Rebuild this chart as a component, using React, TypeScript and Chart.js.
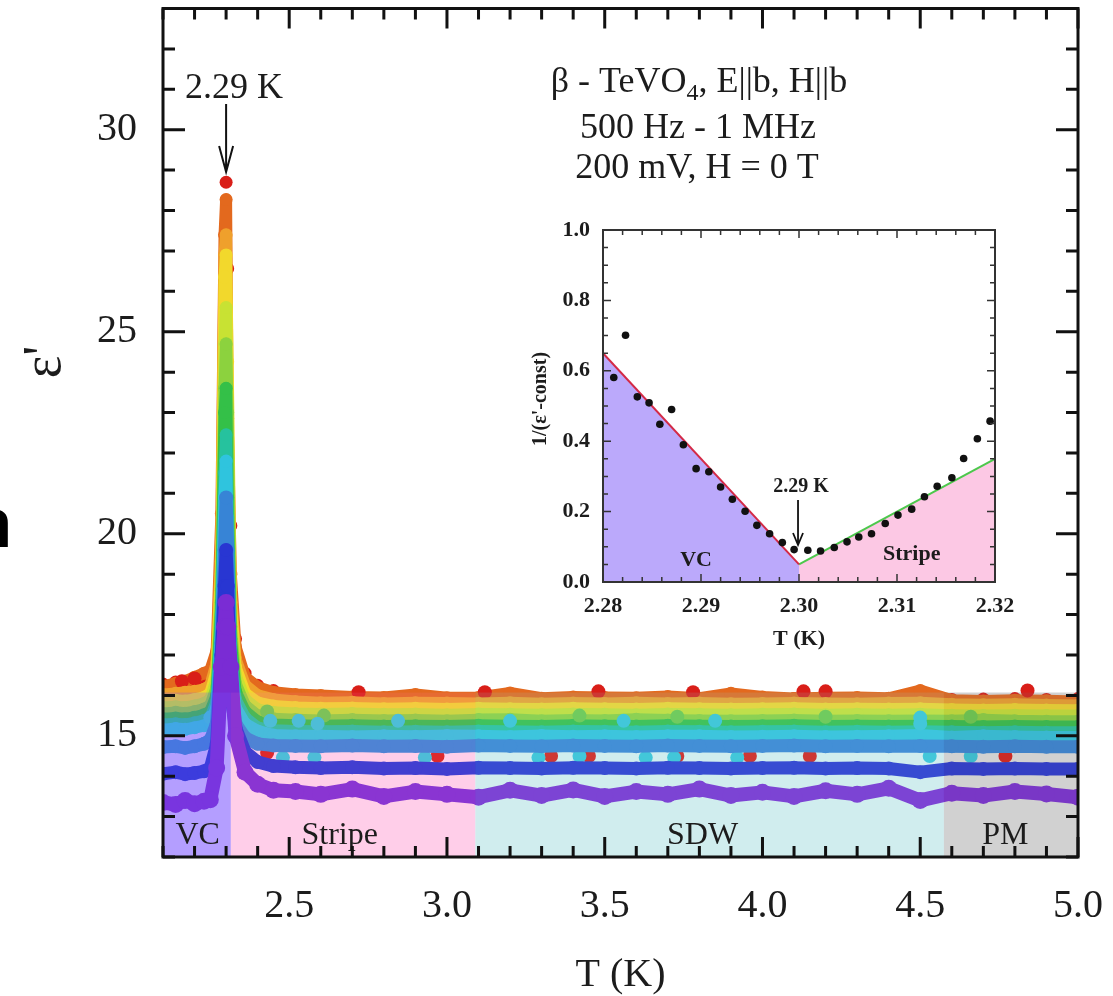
import React, { useEffect, useRef } from "react";
import { Chart, registerables } from "chart.js";

Chart.register(...registerables);

const SERIF = '"Liberation Serif", "Times New Roman", Times, serif';
const INK = "#1c1c1c";

// ---------- main panel: ε' versus T, one curve per measuring frequency ----------
const temperatureK = [
  2.1, 2.14, 2.17, 2.2, 2.23, 2.25, 2.27,
  2.285, 2.295, 2.3, 2.305, 2.315, 2.33, 2.36, 2.4, 2.45,
  2.52, 2.6, 2.7, 2.8, 2.9, 3.0, 3.1, 3.2, 3.3, 3.4, 3.5, 3.6, 3.7,
  3.8, 3.9, 4.0, 4.1, 4.2, 4.3, 4.4, 4.5, 4.6, 4.7, 4.8, 4.9, 5.0,
];

const epsRed = [
  16.28, 16.33, 16.24, 16.3, 16.38, 16.52, 16.9,
  19.5, 25.3, 28.7, 26.56, 20.2, 17.4, 16.55, 16.25, 16.12,
  15.98, 15.93, 15.95, 15.92, 15.9, 15.91, 15.93, 15.92, 15.9, 15.91, 15.92, 15.9, 15.92,
  15.93, 15.9, 15.91, 15.92, 15.93, 15.9, 15.92, 15.95, 15.9, 15.91, 15.92, 15.9, 15.92,
];
const epsOrange = [
  16.22, 16.3, 16.35, 16.45, 16.55, 16.62, 17.1,
  20.5, 27.4, 28.27, 22.85, 19.0, 17.2, 16.45, 16.2, 16.08,
  16.02, 16.0, 15.96, 15.95, 16.02, 15.94, 15.95, 16.06, 15.93, 15.96, 15.95, 15.94, 15.97,
  15.93, 16.05, 15.96, 15.92, 15.94, 15.95, 15.93, 16.12, 15.88, 15.86, 15.88, 15.87, 15.85,
];
const epsAmber = [
  16.02, 16.05, 16.08, 16.1, 16.15, 16.25, 16.8,
  19.8, 26.9, 27.4, 22.0, 18.6, 16.9, 16.25, 16.0, 15.9,
  15.85, 15.82, 15.83, 15.8, 15.82, 15.81, 15.8, 15.82, 15.79, 15.81, 15.8, 15.82, 15.8,
  15.81, 15.79, 15.8, 15.81, 15.8, 15.79, 15.81, 15.82, 15.78, 15.77, 15.78, 15.76, 15.75,
];
const epsYellow = [
  15.85, 15.88, 15.86, 15.9, 15.95, 16.05, 16.6,
  19.3, 26.36, 26.9, 24.26, 18.3, 16.7, 16.05, 15.82, 15.74,
  15.7, 15.68, 15.69, 15.67, 15.68, 15.66, 15.68, 15.67, 15.66, 15.68, 15.67, 15.66, 15.68,
  15.67, 15.66, 15.67, 15.68, 15.66, 15.67, 15.66, 15.67, 15.65, 15.64, 15.65, 15.64, 15.63,
];
const epsLime = [
  15.7, 15.72, 15.7, 15.74, 15.8, 15.9, 16.4,
  19.0, 24.7, 25.6, 21.85, 18.0, 16.5, 15.9, 15.65, 15.58,
  15.55, 15.54, 15.55, 15.53, 15.54, 15.52, 15.54, 15.53, 15.52, 15.54, 15.53, 15.52, 15.54,
  15.53, 15.52, 15.53, 15.54, 15.52, 15.53, 15.52, 15.53, 15.51, 15.5, 15.51, 15.5, 15.5,
];
const epsLightGreen = [
  15.55, 15.58, 15.56, 15.6, 15.66, 15.75, 16.2,
  18.6, 23.6, 24.7, 23.0, 17.7, 16.3, 15.75, 15.5, 15.42,
  15.4, 15.38, 15.4, 15.38, 15.39, 15.37, 15.4, 15.41, 15.37, 15.39, 15.38, 15.41, 15.39,
  15.38, 15.37, 15.38, 15.39, 15.37, 15.38, 15.37, 15.38, 15.37, 15.4, 15.37, 15.36, 15.36,
];
const epsGreen = [
  15.42, 15.44, 15.42, 15.46, 15.52, 15.6, 16.0,
  18.3, 23.0, 23.6, 20.9, 17.4, 16.1, 15.6, 15.35, 15.28,
  15.26, 15.25, 15.26, 15.24, 15.25, 15.24, 15.26, 15.25, 15.24, 15.26, 15.25, 15.24, 15.26,
  15.25, 15.24, 15.25, 15.26, 15.24, 15.25, 15.24, 15.25, 15.24, 15.23, 15.24, 15.23, 15.23,
];
const epsTeal = [
  15.28, 15.3, 15.28, 15.32, 15.38, 15.45, 15.85,
  18.0, 21.5, 22.45, 20.4, 17.1, 15.9, 15.45, 15.2, 15.14,
  15.12, 15.11, 15.12, 15.1, 15.11, 15.1, 15.12, 15.11, 15.1, 15.12, 15.11, 15.1, 15.12,
  15.11, 15.1, 15.11, 15.12, 15.1, 15.11, 15.1, 15.11, 15.1, 15.09, 15.1, 15.09, 15.09,
];
const epsCyan = [
  15.15, 15.18, 15.16, 15.2, 15.25, 15.32, 15.7,
  17.7, 20.9, 21.8, 19.6, 16.8, 15.7, 15.3, 15.12, 15.02,
  15.0, 15.0, 14.98, 15.0, 14.99, 15.01, 15.0, 14.98, 15.01, 14.99, 15.0, 14.98, 15.0,
  15.0, 14.98, 14.99, 15.0, 14.98, 14.99, 15.0, 15.02, 14.97, 15.0, 14.98, 14.97, 14.97,
];
const epsSkyBlue = [
  14.72, 14.74, 14.7, 14.74, 14.8, 14.9, 15.3,
  17.3, 19.6, 20.9, 19.6, 16.3, 15.3, 14.95, 14.8, 14.76,
  14.75, 14.74, 14.76, 14.74, 14.75, 14.73, 14.76, 14.75, 14.74, 14.76, 14.75, 14.74, 14.76,
  14.75, 14.74, 14.75, 14.76, 14.74, 14.75, 14.74, 14.75, 14.74, 14.73, 14.74, 14.73, 14.73,
];
const epsBlue = [
  14.06, 14.1, 14.05, 14.08, 14.12, 14.2, 14.8,
  17.0, 18.7, 19.6, 18.7, 16.0, 15.2, 14.6, 14.35, 14.25,
  14.22, 14.2, 14.22, 14.19, 14.2, 14.18, 14.21, 14.2, 14.19, 14.21, 14.2, 14.19, 14.21,
  14.2, 14.19, 14.2, 14.21, 14.19, 14.2, 14.19, 14.1, 14.19, 14.18, 14.19, 14.18, 14.18,
];
const epsViolet = [
  13.35, 13.3, 13.4, 13.32, 13.38, 13.42, 14.2,
  16.7, 17.7, 18.3, 17.7, 16.7, 15.0, 14.1, 13.8, 13.65,
  13.62, 13.55, 13.68, 13.5, 13.62, 13.55, 13.48, 13.65, 13.52, 13.66, 13.5, 13.62, 13.55,
  13.68, 13.52, 13.6, 13.5, 13.64, 13.55, 13.7, 13.4, 13.58, 13.52, 13.62, 13.56, 13.48,
];

// scattered single readings that stand off their curves
const redDotT = [2.16, 2.2, 2.43, 2.72, 2.97, 3.12, 3.33, 3.45, 3.48, 3.73, 3.78, 3.96, 4.13, 4.15, 4.2, 4.77, 4.84];
const redDotEps = [16.35, 16.42, 14.58, 16.08, 14.5, 16.08, 14.5, 14.5, 16.1, 14.5, 16.08, 14.5, 16.1, 14.5, 16.1, 14.5, 16.12];
const greenDotT = [2.43, 2.61, 3.42, 3.73, 4.2, 4.66];
const greenDotEps = [15.6, 15.5, 15.5, 15.47, 15.47, 15.47];
const cyanDotT = [2.25, 2.44, 2.48, 2.53, 2.58, 2.59, 2.845, 2.93, 3.2, 3.29, 3.42, 3.56, 3.63, 3.72, 3.85, 3.92, 4.5, 4.5, 4.53, 4.66];
const cyanDotEps = [15.45, 15.37, 14.46, 15.37, 14.46, 15.3, 15.37, 14.46, 15.37, 14.46, 14.5, 15.37, 14.46, 14.46, 15.37, 14.46, 15.45, 15.3, 14.5, 14.5];

const xMajorTicks = [2.5, 3.0, 3.5, 4.0, 4.5, 5.0];
const yMajorTicks = [15, 20, 25, 30];

// magnetic phases shaded under the curves
const phaseEdgesK = [2.1, 2.315, 3.09, 4.575, 5.0];
const phaseNames = ["VC", "Stripe", "SDW", "PM"];
const phaseLabelK = [2.21, 2.66, 3.81, 4.77];
const phaseTopEps = 16.07;

// ---------- inset: 1/(ε'-const) near the transition ----------
const insetT = [
  2.2811, 2.2823, 2.2835, 2.2847, 2.2858, 2.287, 2.2882, 2.2895, 2.2908, 2.292,
  2.2932, 2.2945, 2.2957, 2.297, 2.2983, 2.2995, 2.3009, 2.3022, 2.3036, 2.3049,
  2.3061, 2.3074, 2.3088, 2.3101, 2.3115, 2.3128, 2.3141, 2.3156, 2.3168, 2.3182, 2.3195,
];
const insetInvEps = [
  0.581, 0.701, 0.526, 0.509, 0.448, 0.49, 0.39, 0.322, 0.313, 0.27,
  0.235, 0.201, 0.161, 0.137, 0.112, 0.092, 0.09, 0.088, 0.098, 0.114,
  0.128, 0.137, 0.166, 0.19, 0.207, 0.242, 0.272, 0.296, 0.351, 0.407, 0.457,
];
const vcFitT = [2.28, 2.3];
const vcFitY = [0.65, 0.05];
const stripeFitT = [2.3, 2.32];
const stripeFitY = [0.05, 0.35];
const insetXTicks = [2.28, 2.29, 2.3, 2.31, 2.32];
const insetYTicks = [0, 0.2, 0.4, 0.6, 0.8, 1.0];

// drawing styles for the frequency curves (low frequency first)
const curves = [
  { values: epsRed, color: "#D91E18", width: 0, radius: 6.5, line: false },
  { values: epsOrange, color: "#E3691E", width: 12, radius: 6.5, line: true },
  { values: epsAmber, color: "#EFA02C", width: 12, radius: 6.5, line: true },
  { values: epsYellow, color: "#F2D82C", width: 12, radius: 6.5, line: true },
  { values: epsLime, color: "#C8E233", width: 12, radius: 6.5, line: true },
  { values: epsLightGreen, color: "#8CD23E", width: 12, radius: 6.5, line: true },
  { values: epsGreen, color: "#34C048", width: 12, radius: 6.5, line: true },
  { values: epsTeal, color: "#26C29E", width: 12, radius: 6.5, line: true },
  { values: epsCyan, color: "#2FC4DE", width: 12, radius: 6.5, line: true },
  { values: epsSkyBlue, color: "#3784D6", width: 13, radius: 7, line: true },
  { values: epsBlue, color: "#2836D2", width: 13, radius: 7, line: true },
  { values: epsViolet, color: "#7A2CD4", width: 14, radius: 8.5, line: true },
];

const strayDots = [
  { t: redDotT, eps: redDotEps, color: "#D91E18", under: 10 },
  { t: greenDotT, eps: greenDotEps, color: "#6CCB4A", under: 5 },
  { t: cyanDotT, eps: cyanDotEps, color: "#36C6DA", under: 3 },
];

const phaseBase = ["#C8B9FF", "#FFDAEE", "#DCF2F3", "#E1E1E1"];
const phaseTint = [
  "rgba(120, 80, 255, 0.25)",
  "rgba(255, 120, 200, 0.12)",
  "rgba(140, 210, 215, 0.15)",
  "rgba(120, 120, 120, 0.15)",
];

function isNear(v: number, list: number[]) {
  return list.some((m) => Math.abs(m - v) < 1e-6);
}

function fillPhases(chart: any, colors: string[]) {
  const { ctx, chartArea: a, scales } = chart;
  const { x, y } = scales;
  ctx.save();
  ctx.beginPath();
  ctx.rect(a.left, a.top, a.right - a.left, a.bottom - a.top);
  ctx.clip();
  const yTop = y.getPixelForValue(phaseTopEps);
  const yBot = y.getPixelForValue(y.min);
  for (let i = 0; i < phaseNames.length; i++) {
    const x0 = x.getPixelForValue(phaseEdgesK[i]);
    const x1 = x.getPixelForValue(phaseEdgesK[i + 1]);
    ctx.fillStyle = colors[i];
    ctx.fillRect(x0, yTop, x1 - x0, yBot - yTop);
  }
  ctx.restore();
}

const mainDecor = {
  id: "mainDecor",
  beforeDraw(chart: any) {
    const { ctx, width, height } = chart;
    ctx.save();
    ctx.fillStyle = "#ffffff";
    ctx.fillRect(0, 0, width, height);
    ctx.restore();
  },
  beforeDatasetsDraw(chart: any) {
    fillPhases(chart, phaseBase);
  },
  afterDatasetsDraw(chart: any) {
    fillPhases(chart, phaseTint);
  },
  afterDraw(chart: any) {
    const { ctx, chartArea: a, scales } = chart;
    const { x, y } = scales;
    ctx.save();

    // phase names
    ctx.fillStyle = INK;
    ctx.font = `32px ${SERIF}`;
    ctx.textAlign = "center";
    ctx.textBaseline = "alphabetic";
    const labelY = y.getPixelForValue(12.33);
    phaseNames.forEach((n, i) => ctx.fillText(n, x.getPixelForValue(phaseLabelK[i]), labelY));

    // frame
    ctx.strokeStyle = "#111";
    ctx.lineWidth = 3;
    ctx.strokeRect(a.left, a.top, a.right - a.left, a.bottom - a.top);

    // inward ticks on all four sides
    ctx.beginPath();
    for (let i = 0; i <= 29; i++) {
      const v = 2.1 + i * 0.1;
      const px = x.getPixelForValue(v);
      const len = isNear(v, xMajorTicks) ? 20 : 11;
      ctx.moveTo(px, a.bottom);
      ctx.lineTo(px, a.bottom - len);
      ctx.moveTo(px, a.top);
      ctx.lineTo(px, a.top + len);
    }
    for (let v = 12; v <= 33; v++) {
      const py = y.getPixelForValue(v);
      const len = v % 5 === 0 ? 22 : 12;
      ctx.moveTo(a.left, py);
      ctx.lineTo(a.left + len, py);
      ctx.moveTo(a.right, py);
      ctx.lineTo(a.right - len, py);
    }
    ctx.stroke();

    // axis titles
    ctx.fillStyle = INK;
    ctx.font = `40px ${SERIF}`;
    ctx.textAlign = "center";
    ctx.textBaseline = "middle";
    ctx.fillText("T (K)", (a.left + a.right) / 2, 975);
    ctx.save();
    ctx.translate(46, 362);
    ctx.rotate(-Math.PI / 2);
    ctx.font = `54px ${SERIF}`;
    ctx.fillText("ε'", 0, 0);
    ctx.restore();

    // measurement conditions
    ctx.textBaseline = "alphabetic";
    ctx.textAlign = "left";
    const big = `36px ${SERIF}`;
    const small = `24px ${SERIF}`;
    const p1 = "β - TeVO";
    const p2 = "4";
    const p3 = ", E||b, H||b";
    ctx.font = big;
    const w1 = ctx.measureText(p1).width;
    const w3 = ctx.measureText(p3).width;
    ctx.font = small;
    const w2 = ctx.measureText(p2).width;
    const x0 = 699 - (w1 + w2 + w3) / 2;
    ctx.font = big;
    ctx.fillText(p1, x0, 92);
    ctx.font = small;
    ctx.fillText(p2, x0 + w1, 100);
    ctx.font = big;
    ctx.fillText(p3, x0 + w1 + w2, 92);
    ctx.textAlign = "center";
    ctx.fillText("500 Hz - 1 MHz", 698, 138);
    ctx.fillText("200 mV, H = 0 T", 697, 178);

    // peak marker
    const peakX = x.getPixelForValue(2.3);
    ctx.textAlign = "left";
    ctx.fillText("2.29 K", 185, 98);
    ctx.strokeStyle = "#111";
    ctx.lineWidth = 2;
    ctx.beginPath();
    ctx.moveTo(peakX, 104);
    ctx.lineTo(peakX, 172);
    ctx.moveTo(peakX - 7, 146);
    ctx.lineTo(peakX, 172);
    ctx.lineTo(peakX + 7, 146);
    ctx.stroke();

    // clipped letter at the far left edge
    ctx.fillStyle = "#000";
    ctx.font = `bold 68px "Open Sans", "DejaVu Sans", sans-serif`;
    ctx.textAlign = "right";
    ctx.fillText("n", 13, 547);

    ctx.restore();
  },
};

const insetDecor = {
  id: "insetDecor",
  afterDraw(chart: any) {
    const { ctx, chartArea: a, scales } = chart;
    const { x, y } = scales;
    ctx.save();
    ctx.strokeStyle = "#333";
    ctx.lineWidth = 2;
    ctx.strokeRect(a.left, a.top, a.right - a.left, a.bottom - a.top);
    ctx.lineWidth = 1.5;
    ctx.beginPath();
    for (let i = 0; i <= 20; i++) {
      const px = x.getPixelForValue(2.28 + i * 0.002);
      const len = i % 5 === 0 ? 8 : 5;
      ctx.moveTo(px, a.bottom);
      ctx.lineTo(px, a.bottom - len);
      ctx.moveTo(px, a.top);
      ctx.lineTo(px, a.top + len);
    }
    for (let i = 0; i <= 20; i++) {
      const py = y.getPixelForValue(i * 0.05);
      const len = i % 4 === 0 ? 8 : 5;
      ctx.moveTo(a.left, py);
      ctx.lineTo(a.left + len, py);
      ctx.moveTo(a.right, py);
      ctx.lineTo(a.right - len, py);
    }
    ctx.stroke();

    ctx.fillStyle = INK;
    ctx.textAlign = "center";
    ctx.textBaseline = "alphabetic";
    ctx.font = `bold 22px ${SERIF}`;
    ctx.fillText("T (K)", (a.left + a.right) / 2, 430);
    ctx.fillText("VC", x.getPixelForValue(2.2895), 351);
    ctx.fillText("Stripe", x.getPixelForValue(2.3115), 345);
    ctx.font = `bold 20px ${SERIF}`;
    const ax = x.getPixelForValue(2.2999);
    ctx.fillText("2.29 K", ax + 3, 277);
    ctx.strokeStyle = "#111";
    ctx.lineWidth = 1.8;
    ctx.beginPath();
    ctx.moveTo(ax, 285);
    ctx.lineTo(ax, 330);
    ctx.moveTo(ax - 5, 318);
    ctx.lineTo(ax, 330);
    ctx.lineTo(ax + 5, 318);
    ctx.stroke();

    ctx.save();
    ctx.translate(11, 184);
    ctx.rotate(-Math.PI / 2);
    ctx.textBaseline = "middle";
    ctx.font = `bold 20px ${SERIF}`;
    ctx.fillText("1/(ε'-const)", 0, 0);
    ctx.restore();
    ctx.restore();
  },
};

function MainPanel() {
  const ref = useRef<HTMLCanvasElement | null>(null);
  useEffect(() => {
    if (!ref.current) return;
    const curveSets = curves.map((c, i) => ({
      data: temperatureK.map((t, k) => ({ x: t, y: c.values[k] })),
      showLine: c.line,
      borderColor: c.color,
      backgroundColor: c.color,
      pointBackgroundColor: c.color,
      borderWidth: c.width,
      pointRadius: c.radius,
      pointHoverRadius: c.radius,
      pointBorderWidth: 0,
      tension: 0,
      borderJoinStyle: "round",
      borderCapStyle: "round",
      order: (curves.length - i) * 10,
    }));
    const dotSets = strayDots.map((d) => ({
      data: d.t.map((t, k) => ({ x: t, y: d.eps[k] })),
      showLine: false,
      backgroundColor: d.color,
      pointBackgroundColor: d.color,
      pointRadius: 7,
      pointHoverRadius: 7,
      pointBorderWidth: 0,
      order: d.under * 10 + 5,
    }));
    const chart = new Chart(ref.current, {
      type: "scatter",
      data: { datasets: [...curveSets, ...dotSets] },
      options: {
        responsive: false,
        animation: false,
        events: [],
        layout: { padding: { left: 0, right: 35, top: 5, bottom: 0 } },
        plugins: { legend: { display: false }, tooltip: { enabled: false } },
        scales: {
          x: {
            type: "linear",
            min: 2.1,
            max: 5.0,
            afterBuildTicks: (s: any) => {
              s.ticks = xMajorTicks.map((v) => ({ value: v }));
            },
            afterFit: (s: any) => {
              s.height = 139;
              s.paddingLeft = 0;
              s.paddingRight = 0;
            },
            grid: { display: false, drawTicks: false },
            border: { display: false },
            ticks: {
              font: { family: SERIF, size: 40 },
              color: INK,
              padding: 25,
              maxRotation: 0,
              autoSkip: false,
              callback: (v: any) => Number(v).toFixed(1),
            },
          },
          y: {
            type: "linear",
            min: 12,
            max: 33,
            afterBuildTicks: (s: any) => {
              s.ticks = yMajorTicks.map((v) => ({ value: v }));
            },
            afterFit: (s: any) => {
              s.width = 163;
              s.paddingTop = 0;
              s.paddingBottom = 0;
            },
            grid: { display: false, drawTicks: false },
            border: { display: false },
            ticks: {
              font: { family: SERIF, size: 40 },
              color: INK,
              padding: 26,
              autoSkip: false,
              callback: (v: any) => String(v),
            },
          },
        },
      },
      plugins: [mainDecor],
    } as any);
    return () => chart.destroy();
  }, []);
  return (
    <canvas
      ref={ref}
      width={1113}
      height={996}
      style={{ position: "absolute", left: 0, top: 0, width: 1113, height: 996 }}
    />
  );
}

function InsetPanel() {
  const ref = useRef<HTMLCanvasElement | null>(null);
  useEffect(() => {
    if (!ref.current) return;
    const chart = new Chart(ref.current, {
      type: "scatter",
      data: {
        datasets: [
          {
            data: insetT.map((t, k) => ({ x: t, y: insetInvEps[k] })),
            pointRadius: 3.8,
            pointHoverRadius: 3.8,
            pointBackgroundColor: "#111",
            pointBorderWidth: 0,
            showLine: false,
            order: 0,
          },
          {
            data: vcFitT.map((t, k) => ({ x: t, y: vcFitY[k] })),
            showLine: true,
            borderColor: "#D42A46",
            borderWidth: 2,
            pointRadius: 0,
            fill: "origin",
            backgroundColor: "#BBA9FB",
            order: 1,
          },
          {
            data: stripeFitT.map((t, k) => ({ x: t, y: stripeFitY[k] })),
            showLine: true,
            borderColor: "#4CC84C",
            borderWidth: 2,
            pointRadius: 0,
            fill: "origin",
            backgroundColor: "#FCC8E4",
            order: 1,
          },
        ],
      },
      options: {
        responsive: false,
        animation: false,
        events: [],
        layout: { padding: { left: 0, right: 65, top: 15, bottom: 0 } },
        plugins: { legend: { display: false }, tooltip: { enabled: false } },
        scales: {
          x: {
            type: "linear",
            min: 2.28,
            max: 2.32,
            afterBuildTicks: (s: any) => {
              s.ticks = insetXTicks.map((v) => ({ value: v }));
            },
            afterFit: (s: any) => {
              s.height = 78;
              s.paddingLeft = 0;
              s.paddingRight = 0;
            },
            grid: { display: false, drawTicks: false },
            border: { display: false },
            ticks: {
              font: { family: SERIF, size: 22, weight: "bold" },
              color: INK,
              padding: 11,
              maxRotation: 0,
              autoSkip: false,
              callback: (v: any) => Number(v).toFixed(2),
            },
          },
          y: {
            type: "linear",
            min: 0,
            max: 1,
            afterBuildTicks: (s: any) => {
              s.ticks = insetYTicks.map((v) => ({ value: v }));
            },
            afterFit: (s: any) => {
              s.width = 73;
              s.paddingTop = 0;
              s.paddingBottom = 0;
            },
            grid: { display: false, drawTicks: false },
            border: { display: false },
            ticks: {
              font: { family: SERIF, size: 22, weight: "bold" },
              color: INK,
              padding: 13,
              autoSkip: false,
              callback: (v: any) => Number(v).toFixed(1),
            },
          },
        },
      },
      plugins: [insetDecor],
    } as any);
    return () => chart.destroy();
  }, []);
  return (
    <canvas
      ref={ref}
      width={530}
      height={445}
      style={{ position: "absolute", left: 530, top: 215, width: 530, height: 445 }}
    />
  );
}

export default function App() {
  return (
    <div
      style={{
        position: "absolute",
        left: 0,
        top: 0,
        width: 1113,
        height: 996,
        overflow: "hidden",
        background: "#ffffff",
      }}
    >
      <MainPanel />
      <InsetPanel />
    </div>
  );
}
